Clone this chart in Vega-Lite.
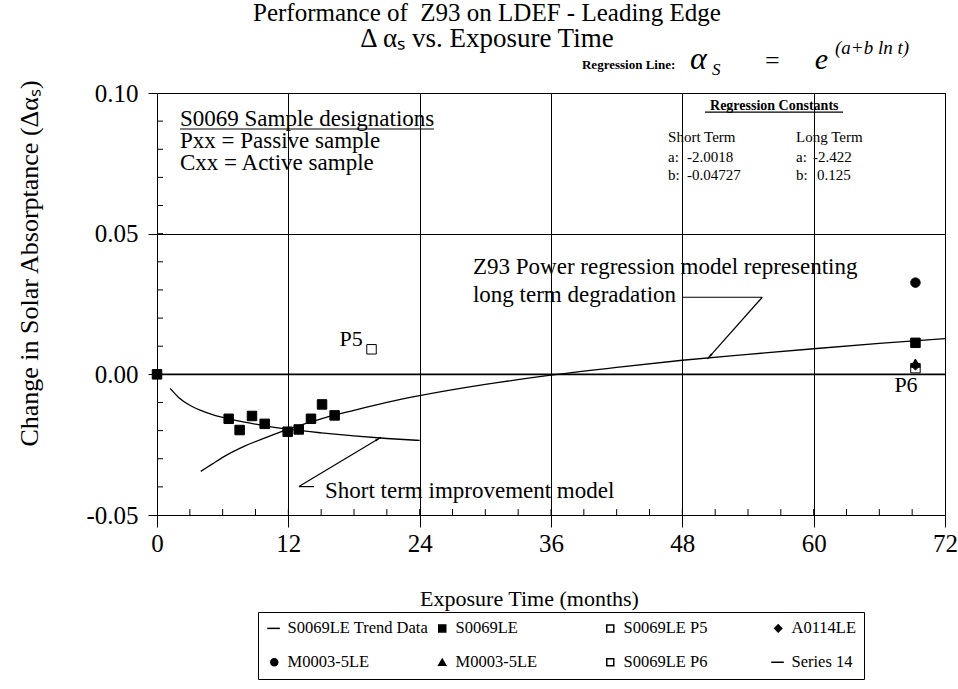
{
  "$schema": "https://vega.github.io/schema/vega-lite/v6.json",
  "width": 788,
  "height": 422,
  "autosize": {"type": "none"},
  "padding": {"left": 157, "top": 93, "right": 13, "bottom": 174},
  "background": "white",
  "config": {
    "font": "Liberation Serif",
    "view": {"stroke": "black", "strokeWidth": 1},
    "axis": {"labelColor": "black", "titleColor": "black", "domainColor": "black", "tickColor": "black", "gridColor": "black", "gridOpacity": 1, "gridWidth": 1, "titleFontWeight": "normal"}
  },
  "title": {
    "text": "Performance of\u00a0 Z93 on LDEF - Leading Edge",
    "subtitle": "Δ αₛ vs. Exposure Time",
    "fontSize": 25,
    "fontWeight": "normal",
    "font": "Liberation Serif",
    "color": "black",
    "subtitleFont": "Liberation Serif",
    "subtitleFontSize": 27,
    "subtitleColor": "black",
    "subtitlePadding": 0,
    "anchor": "middle",
    "dx": -64,
    "offset": -13
  },
  "datasets": {
    "pts": [
      {"t": 0, "v": 0.0, "series": "S0069LE"},
      {"t": 6.55, "v": -0.0158, "series": "S0069LE"},
      {"t": 7.55, "v": -0.0198, "series": "S0069LE"},
      {"t": 8.68, "v": -0.0148, "series": "S0069LE"},
      {"t": 9.84, "v": -0.0176, "series": "S0069LE"},
      {"t": 11.94, "v": -0.0204, "series": "S0069LE"},
      {"t": 12.95, "v": -0.0196, "series": "S0069LE"},
      {"t": 14.07, "v": -0.0158, "series": "S0069LE"},
      {"t": 15.08, "v": -0.0107, "series": "S0069LE"},
      {"t": 16.23, "v": -0.0146, "series": "S0069LE"},
      {"t": 69.3, "v": 0.0112, "series": "S0069LE"},
      {"t": 19.6, "v": 0.0089, "series": "S0069LE P5"},
      {"t": 69.3, "v": 0.0022, "series": "S0069LE P6"},
      {"t": 69.3, "v": 0.0032, "series": "A0114LE"},
      {"t": 69.3, "v": 0.0326, "series": "M0003-5LE"},
      {"t": 69.3, "v": 0.0040, "series": "M0003-5LE (tri)"}
    ],
    "longterm": [
      {"t": 4, "v": -0.0345}, {"t": 5, "v": -0.0320}, {"t": 6, "v": -0.0295},
      {"t": 8, "v": -0.0255}, {"t": 10, "v": -0.0224}, {"t": 12, "v": -0.0195},
      {"t": 15, "v": -0.0158}, {"t": 18, "v": -0.0128}, {"t": 21, "v": -0.0100},
      {"t": 24, "v": -0.0076}, {"t": 30, "v": -0.0036}, {"t": 36, "v": -0.0003},
      {"t": 42, "v": 0.0025}, {"t": 48, "v": 0.0050}, {"t": 54, "v": 0.0071},
      {"t": 60, "v": 0.0091}, {"t": 66, "v": 0.0110}, {"t": 72, "v": 0.0127}
    ],
    "shortterm": [
      {"t": 1.2, "v": -0.0050}, {"t": 2, "v": -0.0083}, {"t": 3, "v": -0.0110},
      {"t": 4, "v": -0.0128}, {"t": 5, "v": -0.0142}, {"t": 6, "v": -0.0153},
      {"t": 8, "v": -0.0170}, {"t": 10, "v": -0.0184}, {"t": 12, "v": -0.0195},
      {"t": 15, "v": -0.0208}, {"t": 18, "v": -0.0219}, {"t": 21, "v": -0.0228},
      {"t": 24, "v": -0.0235}
    ],
    "xminor": [
      {"t": 3}, {"t": 6}, {"t": 9}, {"t": 12}, {"t": 15}, {"t": 18}, {"t": 21}, {"t": 24},
      {"t": 27}, {"t": 30}, {"t": 33}, {"t": 36}, {"t": 39}, {"t": 42}, {"t": 45}, {"t": 48},
      {"t": 51}, {"t": 54}, {"t": 57}, {"t": 60}, {"t": 63}, {"t": 66}, {"t": 69}
    ],
    "yminor": [
      {"v": -0.04}, {"v": -0.03}, {"v": -0.02}, {"v": -0.01}, {"v": 0.0}, {"v": 0.01},
      {"v": 0.02}, {"v": 0.03}, {"v": 0.04}, {"v": 0.05}, {"v": 0.06}, {"v": 0.07},
      {"v": 0.08}, {"v": 0.09}
    ],
    "segs": [
      {"t": 48.06, "v": 0.0274, "t2": 55.3, "v2": 0.0274},
      {"t": 55.3, "v": 0.0274, "t2": 50.3, "v2": 0.0055},
      {"t": 12.97, "v": -0.0399, "t2": 20.47, "v2": -0.0224},
      {"t": 12.97, "v": -0.0399, "t2": 14.35, "v2": -0.0399},
      {"t": 2.1, "v": 0.0872, "t2": 25.3, "v2": 0.0872},
      {"t": 50.07, "v": 0.0932, "t2": 62.68, "v2": 0.0932}
    ],
    "notes": [
      {"grp": "big", "t": 2.1, "v": 0.0883, "text": "S0069 Sample designations"},
      {"grp": "big", "t": 2.1, "v": 0.0803, "text": "Pxx = Passive sample"},
      {"grp": "big", "t": 2.1, "v": 0.0727, "text": "Cxx = Active sample"},
      {"grp": "big", "t": 28.87, "v": 0.0356, "text": "Z93 Power regression model representing"},
      {"grp": "big", "t": 28.87, "v": 0.0256, "text": "long term degradation"},
      {"grp": "big", "t": 15.35, "v": -0.0438, "text": "Short term improvement model"},
      {"grp": "plab", "t": 18.8, "v": 0.0100, "text": "P5"},
      {"grp": "plab", "t": 69.5, "v": -0.0064, "text": "P6"},
      {"grp": "const", "t": 46.7, "v": 0.0825, "text": "Short Term"},
      {"grp": "const", "t": 46.7, "v": 0.0756, "text": "a:"},
      {"grp": "const", "t": 48.43, "v": 0.0756, "text": "-2.0018"},
      {"grp": "const", "t": 46.7, "v": 0.0691, "text": "b:"},
      {"grp": "const", "t": 48.43, "v": 0.0691, "text": "-0.04727"},
      {"grp": "const", "t": 58.39, "v": 0.0825, "text": "Long Term"},
      {"grp": "const", "t": 58.39, "v": 0.0756, "text": "a:"},
      {"grp": "const", "t": 59.94, "v": 0.0756, "text": "-2.422"},
      {"grp": "const", "t": 58.39, "v": 0.0691, "text": "b:"},
      {"grp": "const", "t": 60.3, "v": 0.0691, "text": "0.125"},
      {"grp": "consthead", "t": 56.4, "v": 0.0941, "text": "Regression Constants"},
      {"grp": "f1", "t": 38.83, "v": 0.1085, "text": "Regression Line:"},
      {"grp": "f2", "t": 48.7, "v": 0.1085, "text": "α"},
      {"grp": "f3", "t": 50.7, "v": 0.1064, "text": "S"},
      {"grp": "f4", "t": 55.55, "v": 0.1085, "text": "="},
      {"grp": "f5", "t": 60.1, "v": 0.1085, "text": "e"},
      {"grp": "f6", "t": 61.95, "v": 0.1139, "text": "(a+b ln t)"}
    ]
  },
  "layer": [
    {
      "data": {"values": [{"v": 0}]},
      "mark": {"type": "rule", "color": "black", "strokeWidth": 1.6},
      "encoding": {
        "y": {"field": "v", "type": "quantitative"}
      }
    },
    {
      "data": {"name": "xminor"},
      "mark": {"type": "rule", "color": "black", "strokeWidth": 1},
      "encoding": {
        "x": {"field": "t", "type": "quantitative"},
        "y": {"datum": -0.05},
        "y2": {"datum": -0.0479}
      }
    },
    {
      "data": {"name": "yminor"},
      "mark": {"type": "rule", "color": "black", "strokeWidth": 1},
      "encoding": {
        "y": {"field": "v", "type": "quantitative"},
        "x": {"datum": 0},
        "x2": {"datum": 0.55}
      }
    },
    {
      "data": {"name": "longterm"},
      "mark": {"type": "line", "color": "black", "strokeWidth": 1.3, "interpolate": "monotone"},
      "encoding": {
        "x": {"field": "t", "type": "quantitative"},
        "y": {"field": "v", "type": "quantitative"}
      }
    },
    {
      "data": {"name": "shortterm"},
      "mark": {"type": "line", "color": "black", "strokeWidth": 1.3, "interpolate": "monotone"},
      "encoding": {
        "x": {"field": "t", "type": "quantitative"},
        "y": {"field": "v", "type": "quantitative"}
      }
    },
    {
      "data": {"name": "segs"},
      "mark": {"type": "rule", "color": "black", "strokeWidth": 1.2},
      "encoding": {
        "x": {"field": "t", "type": "quantitative"},
        "y": {"field": "v", "type": "quantitative"},
        "x2": {"field": "t2"},
        "y2": {"field": "v2"}
      }
    },
    {
      "data": {"values": [{"t": 50.55, "v": 0.0066}]},
      "mark": {"type": "point", "shape": "wedge", "filled": true, "color": "black", "size": 70, "angle": 222, "opacity": 1},
      "encoding": {
        "x": {"field": "t", "type": "quantitative"},
        "y": {"field": "v", "type": "quantitative"}
      }
    },
    {
      "data": {"values": [{"t": 20.16, "v": -0.0231}]},
      "mark": {"type": "point", "shape": "wedge", "filled": true, "color": "black", "size": 70, "angle": 59, "opacity": 1},
      "encoding": {
        "x": {"field": "t", "type": "quantitative"},
        "y": {"field": "v", "type": "quantitative"}
      }
    },
    {
      "data": {"name": "pts"},
      "mark": {"type": "point", "filled": true, "stroke": "black", "strokeWidth": 1, "size": 90, "opacity": 1},
      "encoding": {
        "x": {
          "field": "t", "type": "quantitative",
          "scale": {"domain": [0, 72], "nice": false, "zero": false},
          "axis": {
            "values": [0, 12, 24, 36, 48, 60, 72],
            "grid": true,
            "tickSize": 12,
            "labelFontSize": 25,
            "labelPadding": 4,
            "labelFlush": false,
            "title": "Exposure Time (months)",
            "titleFontSize": 22,
            "titleX": 372,
            "titleY": 83,
            "titleAlign": "center",
            "titleBaseline": "middle"
          }
        },
        "y": {
          "field": "v", "type": "quantitative",
          "scale": {"domain": [-0.05, 0.1], "nice": false, "zero": false},
          "axis": {
            "values": [-0.05, 0, 0.05, 0.1],
            "grid": true,
            "tickSize": 9,
            "labelFontSize": 25,
            "labelPadding": 10,
            "labelExpr": "replace(format(datum.value, '.2f'), '\u2212', '-')",
            "title": "Change in Solar Absorptance  (Δαₛ)",
            "titleFontSize": 26,
            "titleX": -128,
            "titleY": 170,
            "titleAngle": -90,
            "titleAlign": "center",
            "titleBaseline": "middle"
          }
        },
        "shape": {
          "field": "series", "type": "nominal",
          "scale": {
            "domain": ["S0069LE Trend Data", "M0003-5LE", "S0069LE", "M0003-5LE (tri)", "S0069LE P5", "S0069LE P6", "A0114LE", "Series 14"],
            "range": ["M-2,0H1.6", "circle", "square", "triangle-up", "square", "square", "diamond", "M-2,0H1.6"]
          },
          "legend": {
            "title": null,
            "orient": "none",
            "legendX": 101,
            "legendY": 519,
            "columns": 4,
            "gridAlign": "all",
            "columnPadding": 3,
            "rowPadding": 17,
            "padding": 8,
            "strokeColor": "black",
            "fillColor": "white",
            "labelFontSize": 16.5,
            "labelFont": "Liberation Serif",
            "labelColor": "black",
            "labelOffset": 5,
            "labelLimit": 400,
            "symbolSize": 49,
            "labelExpr": "datum.label == 'M0003-5LE (tri)' ? 'M0003-5LE' : datum.label",
            "encode": {
              "symbols": {
                "stroke": {"value": "black"},
                "strokeWidth": {"value": 1},
                "opacity": {"value": 1}
              }
            }
          }
        },
        "fill": {
          "field": "series", "type": "nominal",
          "scale": {
            "domain": ["S0069LE Trend Data", "M0003-5LE", "S0069LE", "M0003-5LE (tri)", "S0069LE P5", "S0069LE P6", "A0114LE", "Series 14"],
            "range": ["black", "black", "black", "black", "white", "white", "black", "black"]
          },
          "legend": null
        }
      }
    },
    {
      "data": {"name": "notes"},
      "transform": [{"filter": "datum.grp == 'big'"}],
      "mark": {"type": "text", "align": "left", "baseline": "alphabetic", "fontSize": 23, "color": "black"},
      "encoding": {
        "x": {"field": "t", "type": "quantitative"},
        "y": {"field": "v", "type": "quantitative"},
        "text": {"field": "text"}
      }
    },
    {
      "data": {"name": "notes"},
      "transform": [{"filter": "datum.grp == 'plab'"}],
      "mark": {"type": "text", "align": "right", "baseline": "alphabetic", "fontSize": 22, "color": "black"},
      "encoding": {
        "x": {"field": "t", "type": "quantitative"},
        "y": {"field": "v", "type": "quantitative"},
        "text": {"field": "text"}
      }
    },
    {
      "data": {"name": "notes"},
      "transform": [{"filter": "datum.grp == 'const'"}],
      "mark": {"type": "text", "align": "left", "baseline": "alphabetic", "fontSize": 15, "color": "black"},
      "encoding": {
        "x": {"field": "t", "type": "quantitative"},
        "y": {"field": "v", "type": "quantitative"},
        "text": {"field": "text"}
      }
    },
    {
      "data": {"name": "notes"},
      "transform": [{"filter": "datum.grp == 'consthead'"}],
      "mark": {"type": "text", "align": "center", "baseline": "alphabetic", "fontSize": 14, "fontWeight": "bold", "color": "black"},
      "encoding": {
        "x": {"field": "t", "type": "quantitative"},
        "y": {"field": "v", "type": "quantitative"},
        "text": {"field": "text"}
      }
    },
    {
      "data": {"name": "notes"},
      "transform": [{"filter": "datum.grp == 'f1'"}],
      "mark": {"type": "text", "align": "left", "baseline": "alphabetic", "fontSize": 13, "fontWeight": "bold", "color": "black"},
      "encoding": {
        "x": {"field": "t", "type": "quantitative"},
        "y": {"field": "v", "type": "quantitative"},
        "text": {"field": "text"}
      }
    },
    {
      "data": {"name": "notes"},
      "transform": [{"filter": "datum.grp == 'f2'"}],
      "mark": {"type": "text", "align": "left", "baseline": "alphabetic", "fontSize": 32, "fontStyle": "italic", "color": "black"},
      "encoding": {
        "x": {"field": "t", "type": "quantitative"},
        "y": {"field": "v", "type": "quantitative"},
        "text": {"field": "text"}
      }
    },
    {
      "data": {"name": "notes"},
      "transform": [{"filter": "datum.grp == 'f3'"}],
      "mark": {"type": "text", "align": "left", "baseline": "alphabetic", "fontSize": 17, "fontStyle": "italic", "color": "black"},
      "encoding": {
        "x": {"field": "t", "type": "quantitative"},
        "y": {"field": "v", "type": "quantitative"},
        "text": {"field": "text"}
      }
    },
    {
      "data": {"name": "notes"},
      "transform": [{"filter": "datum.grp == 'f6'"}],
      "mark": {"type": "text", "align": "left", "baseline": "alphabetic", "fontSize": 19, "fontStyle": "italic", "color": "black"},
      "encoding": {
        "x": {"field": "t", "type": "quantitative"},
        "y": {"field": "v", "type": "quantitative"},
        "text": {"field": "text"}
      }
    },
    {
      "data": {"name": "notes"},
      "transform": [{"filter": "datum.grp == 'f4'"}],
      "mark": {"type": "text", "align": "left", "baseline": "alphabetic", "fontSize": 26, "color": "black"},
      "encoding": {
        "x": {"field": "t", "type": "quantitative"},
        "y": {"field": "v", "type": "quantitative"},
        "text": {"field": "text"}
      }
    },
    {
      "data": {"name": "notes"},
      "transform": [{"filter": "datum.grp == 'f5'"}],
      "mark": {"type": "text", "align": "left", "baseline": "alphabetic", "fontSize": 30, "fontStyle": "italic", "color": "black"},
      "encoding": {
        "x": {"field": "t", "type": "quantitative"},
        "y": {"field": "v", "type": "quantitative"},
        "text": {"field": "text"}
      }
    }
  ]
}
